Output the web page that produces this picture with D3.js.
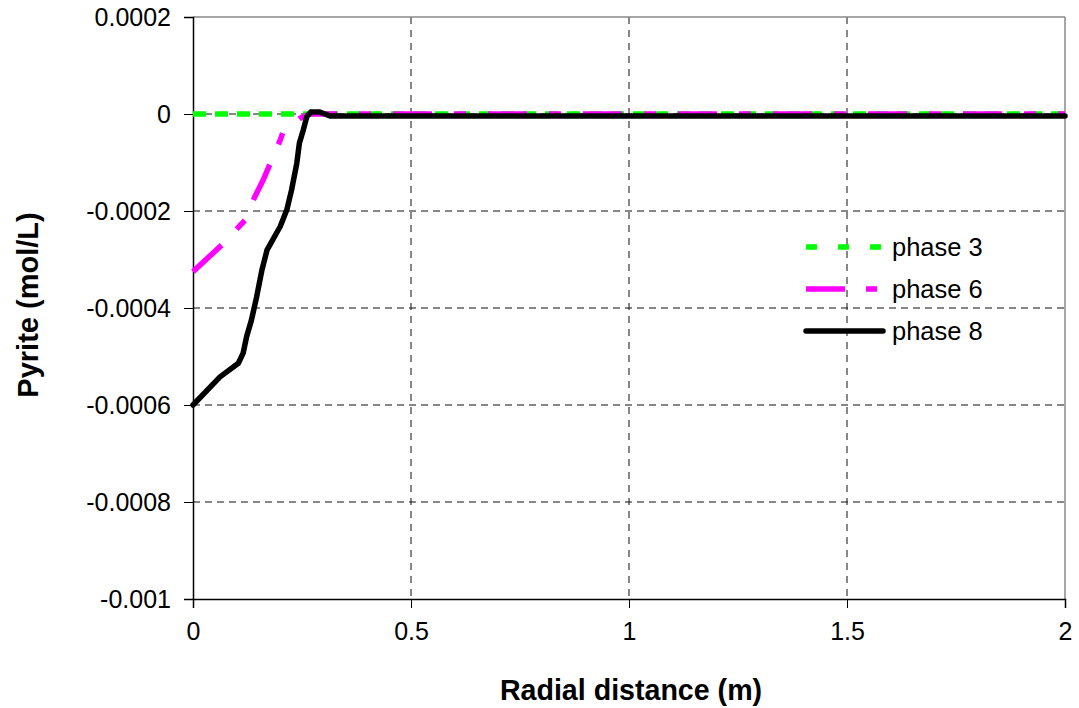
<!DOCTYPE html>
<html>
<head>
<meta charset="utf-8">
<script src="https://cdn.jsdelivr.net/npm/d3@7/dist/d3.min.js"></script>
<style>
  html, body { margin: 0; padding: 0; background: #fff; }
  svg { display: block; font-family: "Liberation Sans", Arial, sans-serif; }
</style>
</head>
<body>
<svg id="chart" width="1079" height="708"></svg>
<script>
// Radial distance (m) and pyrite change (mol/L) for each phase
const phase3X = [0, 0.25, 0.5, 0.75, 1, 1.25, 1.5, 1.75, 2];
const phase3Y = [0, 0, 0, 0, 0, 0, 0, 0, 0];

const phase6X = [0, 0.066, 0.119, 0.142, 0.161, 0.177, 0.200, 0.207, 0.245, 0.268, 0.30, 0.5, 1, 1.5, 2];
const phase6Y = [-0.000325, -0.000270, -0.000219, -0.000170, -0.000136, -0.000102, -0.000054, -0.000036,
                 -0.000009, 0, 0, 0, 0, 0, 0];

const phase8X = [0, 0.062, 0.104, 0.115, 0.123, 0.134, 0.146, 0.158, 0.170, 0.200, 0.215, 0.226, 0.238,
                 0.244, 0.253, 0.261, 0.270, 0.291, 0.314, 0.34, 0.5, 1, 1.5, 2];
const phase8Y = [-0.000600, -0.000542, -0.000514, -0.000493, -0.000459, -0.000425, -0.000377, -0.000322,
                 -0.000280, -0.000232, -0.000198, -0.000157, -0.000102, -0.000060, -0.000033, -0.0000055,
                 0.000004, 0.000004, -0.000004, -0.000004, -0.000004, -0.000004, -0.000004, -0.000004];

const xTicks = [0, 0.5, 1, 1.5, 2];
const yTicks = [0.0002, 0, -0.0002, -0.0004, -0.0006, -0.0008, -0.001];
const yTickLabels = ["0.0002", "0", "-0.0002", "-0.0004", "-0.0006", "-0.0008", "-0.001"];
const seriesNames = ["phase 3", "phase 6", "phase 8"];

const svg = d3.select("#chart");
const plotLeft = 193, plotRight = 1065, plotTop = 17, plotBottom = 599;

const x = d3.scaleLinear().domain([0, 2]).range([plotLeft, plotRight]);
const y = d3.scaleLinear().domain([-0.001, 0.0002]).range([plotBottom, plotTop]);

// grid
const grid = svg.append("g");
yTicks.filter(v => v < 0.0002 && v > -0.001).forEach(v => {
  grid.append("line").attr("x1", plotLeft).attr("x2", plotRight).attr("y1", y(v)).attr("y2", y(v))
    .attr("stroke", "#111").attr("stroke-width", 1).attr("stroke-dasharray", "7,5");
});
xTicks.filter(v => v > 0 && v < 2).forEach(v => {
  grid.append("line").attr("x1", x(v)).attr("x2", x(v)).attr("y1", plotTop).attr("y2", plotBottom)
    .attr("stroke", "#111").attr("stroke-width", 1).attr("stroke-dasharray", "7,6");
});
// plot-area border (top and right)
grid.append("line").attr("x1", plotLeft).attr("x2", plotRight).attr("y1", y(0.0002)).attr("y2", y(0.0002))
  .attr("stroke", "#888").attr("stroke-width", 1.5);
grid.append("line").attr("x1", x(2)).attr("x2", x(2)).attr("y1", plotTop).attr("y2", plotBottom)
  .attr("stroke", "#888").attr("stroke-width", 1.5);

// axes
const xAxis = d3.axisBottom(x).tickValues(xTicks).tickSize(9).tickPadding(14)
  .tickFormat(d => d3.format("")(d));
const gx = svg.append("g").attr("transform", `translate(0,${plotBottom})`).call(xAxis);
gx.select(".domain").attr("stroke", "#000").attr("stroke-width", 1.5);
gx.selectAll(".tick line").attr("stroke", "#000").attr("stroke-width", 1);
gx.selectAll(".tick text").attr("font-size", 25).attr("fill", "#000")
  .attr("font-family", "Liberation Sans, Arial, sans-serif");

const yAxis = d3.axisLeft(y).tickValues(yTicks).tickSize(9).tickPadding(13)
  .tickFormat((d, i) => yTickLabels[i]);
const gy = svg.append("g").attr("transform", `translate(${plotLeft},0)`).call(yAxis);
gy.select(".domain").attr("stroke", "#000").attr("stroke-width", 1.5);
gy.selectAll(".tick line").attr("stroke", "#000").attr("stroke-width", 1);
gy.selectAll(".tick text").attr("font-size", 25).attr("fill", "#000")
  .attr("font-family", "Liberation Sans, Arial, sans-serif");

// axis titles
svg.append("text").attr("x", (plotLeft + plotRight) / 2 + 2).attr("y", 700)
  .attr("text-anchor", "middle").attr("font-size", 28.6).attr("font-weight", "bold")
  .text("Radial distance (m)");
svg.append("text").attr("transform", `translate(38,305) rotate(-90)`)
  .attr("text-anchor", "middle").attr("font-size", 29).attr("font-weight", "bold")
  .text("Pyrite (mol/L)");

// series
const line = d3.line().x(d => x(d[0])).y(d => y(d[1]));
const series = [
  { xs: phase3X, ys: phase3Y, color: "#00ff00", dash: "13,9", cap: "butt", legendDash: "11,21" },
  { xs: phase6X, ys: phase6Y, color: "#ff00ff", dash: "39,22,12,22", cap: "butt", legendDash: "39,21,11,30" },
  { xs: phase8X, ys: phase8Y, color: "#000000", dash: null, cap: "round", legendDash: null }
];
const plot = svg.append("g");
series.forEach(s => {
  const pts = s.xs.map((v, i) => [v, s.ys[i]]);
  plot.append("path").datum(pts).attr("d", line)
    .attr("fill", "none").attr("stroke", s.color).attr("stroke-width", 5.5)
    .attr("stroke-linejoin", "round").attr("stroke-linecap", s.cap)
    .attr("stroke-dasharray", s.dash);
});

// legend
const legendY = [247, 289, 331];
const lg = svg.append("g");
series.forEach((s, i) => {
  lg.append("line").attr("x1", 806).attr("x2", 883).attr("y1", legendY[i]).attr("y2", legendY[i])
    .attr("stroke", s.color).attr("stroke-width", 5.5).attr("stroke-linecap", s.cap)
    .attr("stroke-dasharray", s.legendDash);
  lg.append("text").attr("x", 892).attr("y", legendY[i] + 9).attr("font-size", 25.5).attr("fill", "#000")
    .text(seriesNames[i]);
});
</script>
</body>
</html>
